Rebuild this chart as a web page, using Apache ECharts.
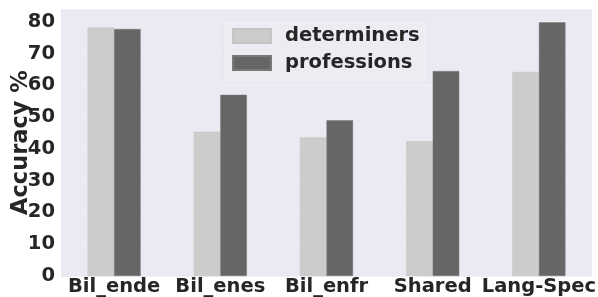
<!DOCTYPE html>
<html>
<head>
<meta charset="utf-8">
<script src="https://cdn.jsdelivr.net/npm/echarts@6/dist/echarts.min.js"></script>
<style>
  html, body { margin: 0; padding: 0; background: #fff; }
  #main { width: 598px; height: 297px; }
</style>
</head>
<body>
<div id="main"></div>
<script>
var categories = ["Bil_ende", "Bil_enes", "Bil_enfr", "Shared", "Lang-Spec"];
var determiners = [78.2, 45.4, 43.6, 42.4, 64.2];
var professions = [77.7, 57.0, 49.0, 64.5, 79.8];

var chart = echarts.init(document.getElementById('main'));
var font = 'DejaVu Sans';
var option = {
  animation: false,
  backgroundColor: '#ffffff',
  grid: {
    left: 61, right: 6, top: 9, bottom: 21,
    containLabel: false, outerBoundsMode: 'none',
    backgroundColor: '#eaeaf2', show: true, borderWidth: 0
  },
  legend: {
    left: 223, top: 20,
    orient: 'vertical',
    icon: 'rect',
    itemWidth: 38, itemHeight: 14, itemGap: 7,
    padding: [6, 9, 9, 9],
    backgroundColor: '#ececf3',
    borderColor: '#e4e4ec', borderWidth: 1, borderRadius: 3,
    textStyle: { fontFamily: font, fontWeight: 'bold', fontSize: 19.5, color: '#262626', padding: [0, 0, 0, 9] },
    data: ['determiners', 'professions']
  },
  xAxis: {
    type: 'category',
    data: categories,
    axisLine: { show: false },
    axisTick: { show: false },
    splitLine: { show: false },
    axisLabel: { fontFamily: font, fontWeight: 'bold', fontSize: 19.5, color: '#262626', margin: 1, interval: 0 }
  },
  yAxis: {
    type: 'value',
    min: 0, max: 84, interval: 10,
    name: 'Accuracy %',
    nameLocation: 'middle',
    nameGap: 28,
    nameMoveOverlap: false,
    nameTextStyle: { fontFamily: font, fontWeight: 'bold', fontSize: 22.5, color: '#262626' },
    axisLine: { show: false },
    axisTick: { show: false },
    splitLine: { lineStyle: { color: '#eeeef5', width: 1 } },
    axisLabel: { fontFamily: font, fontWeight: 'bold', fontSize: 19.5, color: '#262626', margin: 6, showMaxLabel: false }
  },
  series: [
    {
      name: 'determiners', type: 'bar', data: determiners,
      barWidth: '25%', barGap: '0%',
      itemStyle: { color: '#cccccc', borderColor: '#c4c4c4', borderWidth: 0.5 }
    },
    {
      name: 'professions', type: 'bar', data: professions,
      barWidth: '25%', barGap: '0%',
      itemStyle: { color: '#666666', borderColor: '#7a7a7a', borderWidth: 0.5 }
    }
  ]
};
chart.setOption(option);
</script>
</body>
</html>
